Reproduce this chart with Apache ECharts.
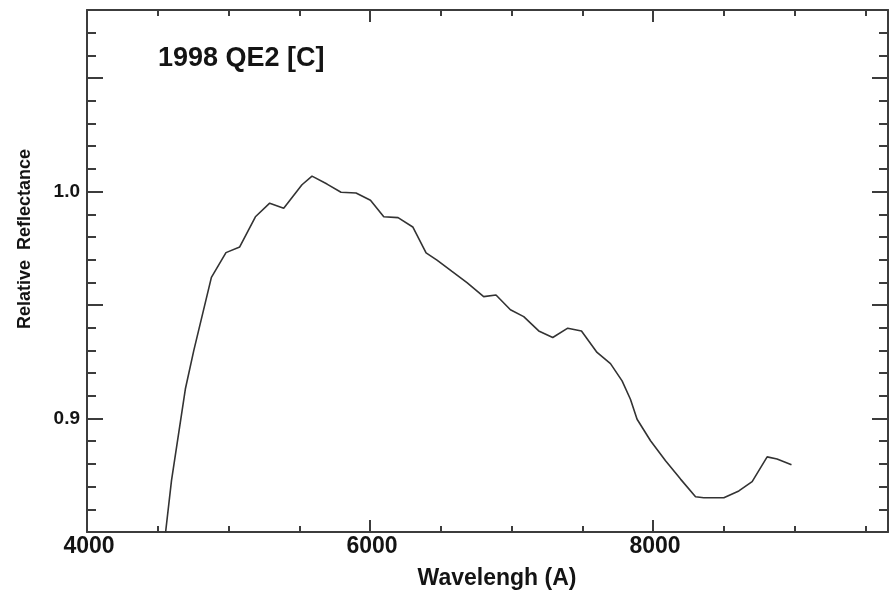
<!DOCTYPE html>
<html>
<head>
<meta charset="utf-8">
<script src="https://cdn.jsdelivr.net/npm/echarts@6/dist/echarts.min.js"></script>
<style>
html,body{margin:0;padding:0;background:#fff;}
#chart{width:889px;height:598px;}
</style>
</head>
<body>
<div id="chart"></div>
<script>
// Wavelength (Angstrom) and relative reflectance
var wavelength = [4550, 4597, 4695, 4754, 4879, 4982, 5079, 5190, 5291, 5390, 5519, 5590, 5696, 5795, 5901, 6003, 6097, 6198, 6302, 6396, 6473, 6579, 6685, 6803, 6890, 6992, 7086, 7192, 7291, 7397, 7494, 7604, 7699, 7781, 7840, 7887, 7982, 8088, 8194, 8300, 8358, 8500, 8606, 8700, 8806, 8876, 8978];
var reflectance = [0.847, 0.8726, 0.9130, 0.9298, 0.9622, 0.9731, 0.9756, 0.9889, 0.9949, 0.9927, 1.0030, 1.0068, 1.0033, 0.9997, 0.9994, 0.9962, 0.9889, 0.9885, 0.9844, 0.9730, 0.9698, 0.9648, 0.9599, 0.9537, 0.9544, 0.9479, 0.9449, 0.9386, 0.9357, 0.9398, 0.9386, 0.9291, 0.9242, 0.9166, 0.9085, 0.8997, 0.8902, 0.8814, 0.8733, 0.8655, 0.8651, 0.8651, 0.8681, 0.8722, 0.8831, 0.8822, 0.8796];
var xTickLabels = [4000, 6000, 8000];
var yTickLabels = ['0.9', '1.0'];
var titleText = '1998 QE2 [C]';
var xName = 'Wavelengh (A)';
var yName = 'Relative  Reflectance';

var X_MIN = 4000, X_MAX = 9660, Y_MIN = 0.85, Y_MAX = 1.08;
var axisColor = '#3c3c3c';
var textColor = '#141414';
var font = 'Liberation Sans, Arial, sans-serif';

var pts = wavelength.map(function (w, i) { return [w, reflectance[i]]; });

function xAxisDef(pos, interval, len, labels, line) {
  return {
    type: 'value', position: pos, min: X_MIN, max: X_MAX, interval: interval,
    axisLine: { show: line, onZero: false, lineStyle: { color: axisColor, width: 2 } },
    axisTick: { show: true, inside: true, length: len, lineStyle: { color: axisColor, width: 2 } },
    axisLabel: labels ? {
      show: true, margin: 3, color: textColor, fontFamily: font, fontWeight: 'bold', fontSize: 23,
      showMaxLabel: false, padding: [0, 0, 0, 4],
      formatter: function (v) { return xTickLabels.indexOf(Math.round(v)) >= 0 && Math.abs(v - Math.round(v)) < 1e-6 ? String(Math.round(v)) : ''; }
    } : { show: false },
    splitLine: { show: false }
  };
}
function yAxisDef(pos, interval, len, labels, line) {
  return {
    type: 'value', position: pos, min: Y_MIN, max: Y_MAX, interval: interval,
    axisLine: { show: line, onZero: false, lineStyle: { color: axisColor, width: 2 } },
    axisTick: { show: true, inside: true, length: len, lineStyle: { color: axisColor, width: 2 } },
    axisLabel: labels ? {
      show: true, margin: 7, color: textColor, fontFamily: font, fontWeight: 'bold', fontSize: 19,
      padding: [0, 0, 12, 0],
      showMaxLabel: false,
      formatter: function (v) { var s = v.toFixed(2); if (s === '0.90') return yTickLabels[0]; if (s === '1.00') return yTickLabels[1]; return ''; }
    } : { show: false },
    splitLine: { show: false }
  };
}

var chart = echarts.init(document.getElementById('chart'), null, { renderer: 'canvas' });
chart.setOption({
  backgroundColor: '#ffffff',
  animation: false,
  grid: { left: 87, right: 1, top: 10, bottom: 66, containLabel: false },
  xAxis: [
    xAxisDef('bottom', 2000, 12, true, true),
    xAxisDef('bottom', 500, 6, false, false),
    xAxisDef('top', 2000, 12, false, true),
    xAxisDef('top', 500, 6, false, false)
  ],
  yAxis: [
    yAxisDef('left', 0.05, 16, true, true),
    yAxisDef('left', 0.01, 9, false, false),
    yAxisDef('right', 0.05, 16, false, true),
    yAxisDef('right', 0.01, 9, false, false)
  ],
  graphic: [
    { type: 'text', left: 158, top: 45, style: { text: titleText, fill: textColor, font: 'bold 27px ' + font } },
    { type: 'text', x: 497, y: 579, style: { text: xName, fill: textColor, font: 'bold 23px ' + font, textAlign: 'center', textVerticalAlign: 'middle' } },
    { type: 'text', x: 25, y: 239, rotation: Math.PI / 2, style: { text: yName, fill: textColor, font: 'bold 18px ' + font, textAlign: 'center', textVerticalAlign: 'middle' } }
  ],
  series: [{
    type: 'line', xAxisIndex: 0, yAxisIndex: 0, data: pts, showSymbol: false, symbol: 'none',
    clip: true, lineStyle: { color: '#333333', width: 1.6 }
  }]
});
</script>
</body>
</html>
